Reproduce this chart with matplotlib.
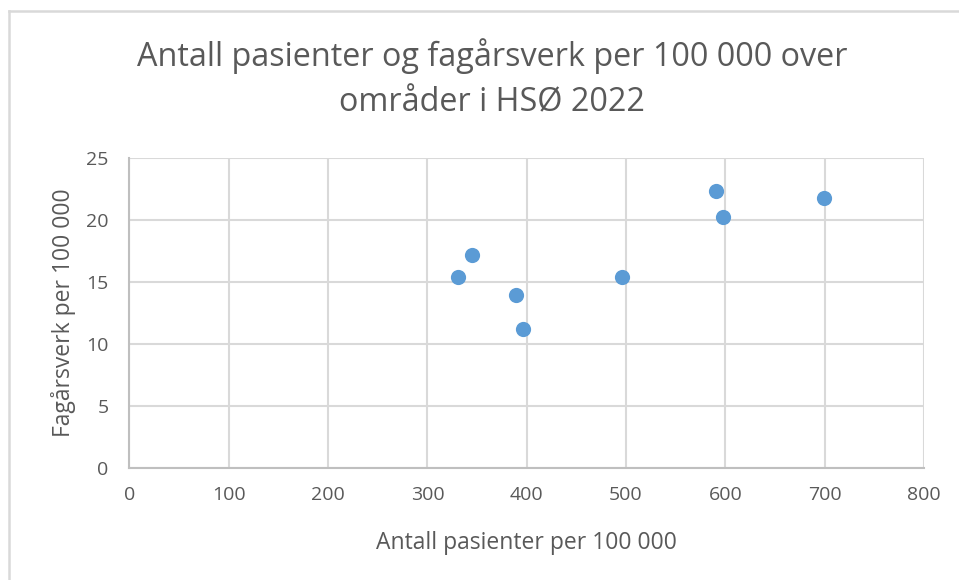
import matplotlib.pyplot as plt
from matplotlib.lines import Line2D

# data
pasienter = [331, 345, 389, 396, 496, 591, 598, 699]
fagarsverk = [15.4, 17.2, 13.95, 11.2, 15.4, 22.35, 20.2, 21.75]

x_ticks = [0, 100, 200, 300, 400, 500, 600, 700, 800]
y_ticks = [0, 5, 10, 15, 20, 25]

title = "Antall pasienter og fagårsverk per 100 000 over\nområder i HSØ 2022"
xlabel = "Antall pasienter per 100 000"
ylabel = "Fagårsverk per 100 000"

plt.rcParams["font.family"] = ["Open Sans", "DejaVu Sans"]
text_col = "#595959"
grid_col = "#D9D9D9"

fig = plt.figure(figsize=(9.59, 5.8), dpi=100)
ax = fig.add_axes([0.135, 0.193, 0.8285, 0.535])

# chart frame border (only top and left edges show in the crop)
bx, by = 9 / 959, 1 - 11 / 580
fig.add_artist(Line2D([bx, 1.0], [by, by], transform=fig.transFigure,
                      color="#D9D9D9", linewidth=1.8))
fig.add_artist(Line2D([bx, bx], [0.0, by], transform=fig.transFigure,
                      color="#D9D9D9", linewidth=1.8))

ax.scatter(pasienter, fagarsverk, s=120, color="#5B9BD5", zorder=3, linewidths=0)

ax.set_xlim(0, 800)
ax.set_ylim(0, 25)
ax.set_xticks(x_ticks)
ax.set_yticks(y_ticks)
ax.grid(True, color=grid_col, linewidth=1.5)
ax.set_axisbelow(True)

for s in ["top", "right"]:
    ax.spines[s].set_visible(False)
for s in ["left", "bottom"]:
    ax.spines[s].set_color("#BFBFBF")
    ax.spines[s].set_linewidth(1.5)

ax.tick_params(length=0, labelsize=14, labelcolor=text_col)
ax.tick_params(axis="y", pad=15)
ax.tick_params(axis="x", pad=13)
ax.set_xlabel(xlabel, fontsize=16.5, color=text_col, labelpad=19)
ax.set_ylabel(ylabel, fontsize=16.5, color=text_col, labelpad=7)

fig.text(0.513, 0.864, title, ha="center", va="center", fontsize=23.3,
         color=text_col, linespacing=1.5)

fig.savefig("out.png", dpi=100)
